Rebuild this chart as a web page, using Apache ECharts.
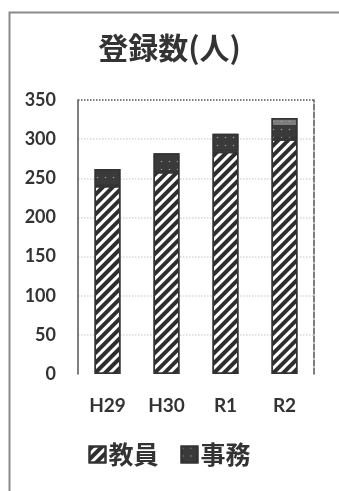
<!DOCTYPE html>
<html>
<head>
<meta charset="utf-8">
<script src="https://cdn.jsdelivr.net/npm/echarts@6/dist/echarts.min.js"></script>
<style>
  html, body { margin: 0; padding: 0; background: #fff; }
  #chart { width: 339px; height: 491px; }
</style>
</head>
<body>
<div id="chart"></div>
<script>
// 年度別の登録者数
const categories = ['H29', 'H30', 'R1', 'R2'];
const teachers = [240, 258, 284, 300];   // 教員
const staff = [22, 24, 23, 27];          // 事務
const yTicks = { min: 0, max: 350, interval: 50 };

const ink = '#333';
const cjk = '"Noto Sans CJK JP", "Noto Sans", sans-serif';
const latin = 'Lato, "Liberation Sans", sans-serif';

const chart = echarts.init(document.getElementById('chart'));

// 事務: the newest year has a lighter cap on top
const staffData = staff.map((v, i) => {
  if (i !== staff.length - 1) return v;
  return {
    value: v,
    itemStyle: {
      color: new echarts.graphic.LinearGradient(0, 0, 0, 1, [
        { offset: 0, color: '#7d7d7d' },
        { offset: 0.33, color: '#7d7d7d' },
        { offset: 0.34, color: '#3a3a3a' },
        { offset: 1, color: '#3a3a3a' }
      ])
    }
  };
});

// split-line colours: baseline hidden, inner lines faint, 350 line dark
const splitColors = [];
for (let v = yTicks.min; v <= yTicks.max; v += yTicks.interval) {
  splitColors.push(v === yTicks.min ? 'rgba(0,0,0,0)' : (v === yTicks.max ? '#555' : '#d8d8d8'));
}

chart.setOption({
  backgroundColor: '#fff',
  animation: false,
  title: {
    text: '登録数(人)',
    left: 'center',
    top: 28,
    textStyle: { fontFamily: cjk, fontSize: 30, fontWeight: 'bold', color: ink }
  },
  graphic: [{
    type: 'rect',
    left: 7, top: 10,
    shape: { width: 400, height: 600 },
    style: { fill: 'none', stroke: '#8a8a8a', lineWidth: 2 },
    silent: true
  }],
  legend: {
    bottom: 19,
    left: 'center',
    itemWidth: 16,
    itemHeight: 16,
    itemGap: 22,
    icon: 'rect',
    textStyle: { fontFamily: cjk, fontSize: 25, fontWeight: 'bold', color: ink, padding: [0, 0, 0, -2] },
    data: ['教員', '事務']
  },
  grid: { left: 78, right: 25, top: 100, bottom: 117 },
  xAxis: {
    type: 'category',
    data: categories,
    axisLine: { show: false },
    axisTick: { show: false },
    axisLabel: { margin: 22, fontFamily: latin, fontSize: 19, fontWeight: 'bold', color: ink }
  },
  yAxis: [{
    type: 'value',
    min: yTicks.min, max: yTicks.max, interval: yTicks.interval,
    axisLine: { show: true, lineStyle: { color: '#555', width: 1.5 } },
    axisTick: { show: false },
    axisLabel: { margin: 22, fontFamily: latin, fontSize: 18, fontWeight: 'bold', color: ink },
    splitLine: { show: true, lineStyle: { color: splitColors, type: 'dotted', width: 1.5 } }
  }, {
    type: 'value',
    position: 'right',
    min: yTicks.min, max: yTicks.max, interval: yTicks.interval,
    axisLine: { show: true, lineStyle: { color: '#555', width: 1.5, type: [6, 2] } },
    axisTick: { show: false },
    axisLabel: { show: false },
    splitLine: { show: false }
  }],
  series: [{
    name: '教員',
    type: 'bar',
    stack: 'total',
    barWidth: '44%',
    data: teachers,
    itemStyle: {
      color: '#fff',
      borderColor: ink,
      borderWidth: 1.5,
      decal: {
        symbol: 'rect',
        symbolSize: 1,
        dashArrayX: [1, 0],
        dashArrayY: [3.5, 3],
        rotation: -Math.PI / 4,
        color: '#2e2e2e'
      }
    }
  }, {
    name: '事務',
    type: 'bar',
    stack: 'total',
    data: staffData,
    itemStyle: {
      color: '#3a3a3a',
      borderColor: ink,
      borderWidth: 1.5,
      decal: {
        symbol: 'circle',
        symbolSize: 0.5,
        dashArrayX: [3, 5],
        dashArrayY: [3, 5],
        color: '#a0a0a0'
      }
    }
  }]
});
</script>
</body>
</html>
